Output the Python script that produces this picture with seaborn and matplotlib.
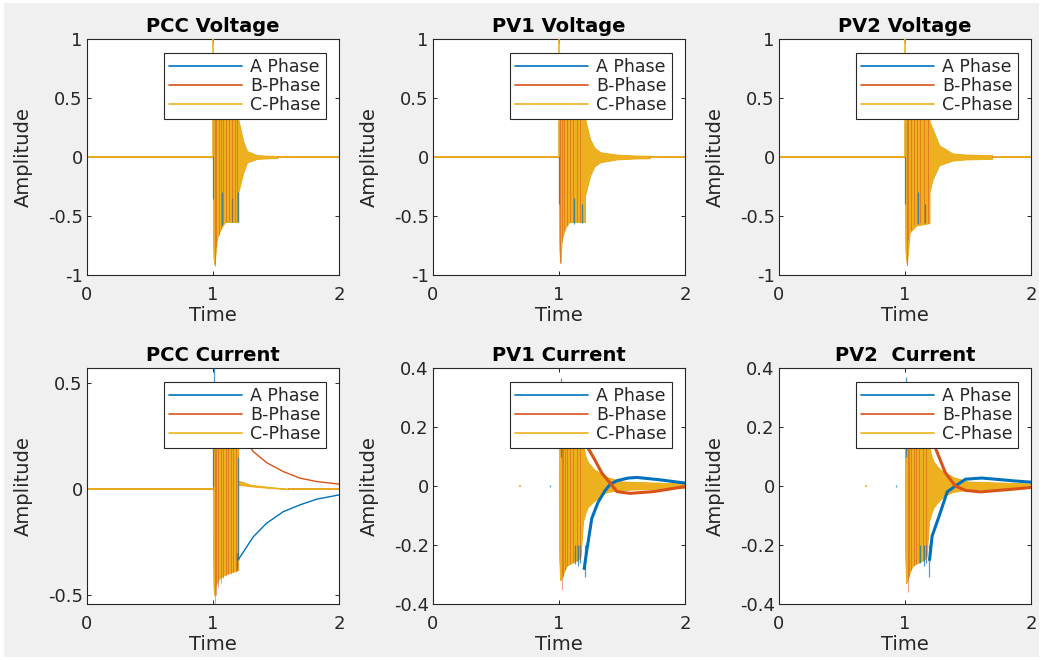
import numpy as np
import pandas as pd
import matplotlib
matplotlib.use("Agg")
import matplotlib.pyplot as plt
from matplotlib.lines import Line2D
from matplotlib.patches import Rectangle
import seaborn as sns

# ---------------- data ----------------
PHASES = ["A Phase", "B-Phase", "C-Phase"]
COLORS = ["#0072BD", "#D95319", "#EDB120"]
TITLES = ["PCC Voltage", "PV1 Voltage", "PV2 Voltage",
          "PCC Current", "PV1 Current", "PV2  Current"]
X_TICKS = [0, 1, 2]
V_TICKS = [-1, -0.5, 0, 0.5, 1]
V_TICKLABELS = ["-1", "-0.5", "0", "0.5", "1"]
PCC_I_TICKS = [-0.5, 0, 0.5]
PCC_I_TICKLABELS = ["-0.5", "0", "0.5"]
PV_I_TICKS = [-0.4, -0.2, 0, 0.2, 0.4]
PV_I_TICKLABELS = ["-0.4", "-0.2", "0", "0.2", "0.4"]
V_LIM = (-1, 1)
PCC_I_LIM = (-0.541, 0.571)
PV_I_LIM = (-0.4, 0.4)

# zero trace before the disturbance (all phases)
ZERO_T = [0.0, 1.0]
ZERO_V = [0.0, 0.0]
END_T = 2.0

# ---- PCC voltage: C-phase envelope (dense band 1.0-1.2 then decay) ----
PCC_V_ENV_T = [1.0, 1.004, 1.012, 1.03, 1.06, 1.095, 1.2, 1.2, 1.24, 1.27, 1.35, 1.45, 1.51, 1.515]
PCC_V_ENV_HI = [0.6, 0.6, 0.6, 0.55, 0.5, 0.45, 0.4, 0.32, 0.13, 0.05, 0.015, 0.01, 0.008, 0.0]
PCC_V_ENV_LO = [-0.6, -0.85, -0.91, -0.69, -0.61, -0.55, -0.55, -0.30, -0.13, -0.045, -0.015, -0.01, -0.008, 0.0]
PCC_V_SPIKE_C = [(1.0, 0.0, 1.0)]
PCC_V_SPIKE_A = [(1.001, -0.36, 0.32), (1.2, -0.55, -0.30), (1.07, -0.58, -0.3), (1.15, -0.55, -0.35)]
PCC_V_SPIKE_B = [(1.012, -0.92, 0.4), (1.025, -0.76, 0.4), (1.045, -0.66, 0.4), (1.06, -0.61, 0.4),
                 (1.08, -0.57, 0.4), (1.1, -0.55, 0.4), (1.125, -0.55, 0.4), (1.15, -0.55, 0.4),
                 (1.175, -0.55, 0.4), (1.19, -0.55, 0.4)]

# ---- PV1 voltage ----
PV1_V_ENV_T = [1.0, 1.004, 1.012, 1.02, 1.05, 1.08, 1.205, 1.205, 1.246, 1.28, 1.325, 1.455, 1.6, 1.72, 1.725]
PV1_V_ENV_HI = [0.6, 0.6, 0.6, 0.55, 0.5, 0.45, 0.4, 0.33, 0.15, 0.08, 0.04, 0.02, 0.012, 0.01, 0.0]
PV1_V_ENV_LO = [-0.5, -0.8, -0.9, -0.7, -0.6, -0.55, -0.55, -0.33, -0.16, -0.08, -0.045, -0.02, -0.012, -0.01, 0.0]
PV1_V_SPIKE_C = [(1.0, 0.0, 1.0)]
PV1_V_SPIKE_A = [(1.003, -0.4, 0.3), (1.12, -0.57, -0.35), (1.18, -0.56, -0.4)]
PV1_V_SPIKE_B = [(1.01, -0.9, 0.4), (1.022, -0.72, 0.4), (1.04, -0.63, 0.4), (1.06, -0.58, 0.4),
                 (1.085, -0.55, 0.4), (1.11, -0.55, 0.4), (1.14, -0.55, 0.4), (1.17, -0.55, 0.4)]

# ---- PV2 voltage ----
PV2_V_ENV_T = [1.0, 1.004, 1.014, 1.036, 1.088, 1.194, 1.194, 1.218, 1.27, 1.376, 1.48, 1.69, 1.695]
PV2_V_ENV_HI = [0.6, 0.6, 0.6, 0.55, 0.5, 0.4, 0.3, 0.24, 0.1, 0.03, 0.02, 0.015, 0.0]
PV2_V_ENV_LO = [-0.5, -0.8, -0.91, -0.64, -0.58, -0.56, -0.3, -0.19, -0.07, -0.03, -0.02, -0.015, 0.0]
PV2_V_SPIKE_C = [(1.0, 0.0, 1.0)]
PV2_V_SPIKE_A = [(1.003, -0.4, 0.3), (1.1, -0.57, -0.3), (1.16, -0.56, -0.4)]
PV2_V_SPIKE_B = [(1.012, -0.92, 0.4), (1.024, -0.7, 0.4), (1.045, -0.62, 0.4), (1.07, -0.58, 0.4),
                 (1.095, -0.56, 0.4), (1.12, -0.56, 0.4), (1.15, -0.56, 0.4), (1.18, -0.56, 0.4)]

# ---- PCC current ----
PCC_I_ENV_T = [1.0, 1.004, 1.01, 1.02, 1.05, 1.1, 1.15, 1.2, 1.2, 1.25, 1.3, 1.45, 1.6]
PCC_I_ENV_HI = [0.3, 0.35, 0.35, 0.35, 0.3, 0.3, 0.3, 0.3, 0.04, 0.03, 0.02, 0.01, 0.002]
PCC_I_ENV_LO = [-0.2, -0.45, -0.5, -0.45, -0.42, -0.40, -0.39, -0.38, 0.02, 0.018, 0.014, 0.006, 0.0]
PCC_I_A_T = [1.2, 1.32, 1.426, 1.558, 1.69, 1.823, 2.0]
PCC_I_A_V = [-0.333, -0.224, -0.16, -0.106, -0.074, -0.047, -0.027]
PCC_I_B_T = [1.2, 1.32, 1.426, 1.558, 1.69, 1.823, 2.0]
PCC_I_B_V = [0.28, 0.177, 0.125, 0.083, 0.052, 0.036, 0.024]
PCC_I_SPIKE_A = [(1.0, 0.01, 0.2), (1.006, 0.2, 0.6), (1.2, -0.333, 0.15), (1.19, -0.38, -0.3)]
PCC_I_SPIKE_B = [(1.012, -0.545, 0.3), (1.022, -0.5, 0.3), (1.04, -0.46, 0.3), (1.06, -0.44, 0.3),
                 (1.08, -0.42, 0.3), (1.1, -0.41, 0.3), (1.12, -0.40, 0.3), (1.14, -0.40, 0.3),
                 (1.16, -0.39, 0.3), (1.18, -0.39, 0.3)]
PCC_I_SPIKE_C = []

# ---- PV1 current ----
PV1_I_ENV_T = [1.0, 1.003, 1.01, 1.03, 1.06, 1.1, 1.15, 1.17, 1.19, 1.21, 1.23, 1.28, 1.325, 1.38, 1.5, 2.0]
PV1_I_ENV_HI = [0.05, 0.2, 0.25, 0.25, 0.25, 0.25, 0.25, 0.2, 0.14, 0.1, 0.08, 0.055, 0.045, 0.03, 0.015, 0.008]
PV1_I_ENV_LO = [-0.05, -0.25, -0.32, -0.3, -0.27, -0.26, -0.25, -0.24, -0.12, -0.09, -0.07, -0.05, -0.035, -0.02, -0.013, -0.006]
PV1_I_A_T = [1.2, 1.22, 1.246, 1.26, 1.31, 1.365, 1.405, 1.46, 1.55, 1.62, 1.80, 2.0]
PV1_I_A_V = [-0.28, -0.22, -0.149, -0.11, -0.055, -0.016, 0.005, 0.018, 0.027, 0.029, 0.021, 0.01]
PV1_I_B_T = [1.2, 1.23, 1.285, 1.34, 1.405, 1.46, 1.563, 1.75, 2.0]
PV1_I_B_V = [0.2, 0.129, 0.088, 0.044, 0.01, -0.019, -0.025, -0.019, -0.002]
PV1_I_SPIKE_A = [(1.018, 0.1, 0.366), (1.13, -0.265, -0.2), (1.15, -0.27, -0.2), (1.17, -0.26, -0.2),
                 (1.208, -0.31, -0.2), (0.93, -0.003, 0.003)]
PV1_I_SPIKE_B = [(1.02, -0.353, 0.2), (1.035, -0.31, 0.2), (1.048, -0.285, 0.2), (1.065, -0.27, 0.2),
                 (1.087, -0.265, 0.2), (1.11, -0.26, 0.2), (1.14, -0.255, 0.2), (1.165, -0.25, 0.2)]
PV1_I_SPIKE_C = [(0.69, -0.003, 0.003)]

# ---- PV2 current ----
PV2_I_ENV_T = [1.0, 1.003, 1.01, 1.03, 1.06, 1.1, 1.15, 1.17, 1.19, 1.21, 1.23, 1.28, 1.325, 1.38, 1.5, 2.0]
PV2_I_ENV_HI = [0.05, 0.2, 0.25, 0.25, 0.25, 0.25, 0.25, 0.2, 0.14, 0.1, 0.08, 0.055, 0.045, 0.03, 0.015, 0.008]
PV2_I_ENV_LO = [-0.05, -0.25, -0.33, -0.3, -0.27, -0.26, -0.25, -0.24, -0.12, -0.09, -0.07, -0.045, -0.03, -0.02, -0.012, -0.006]
PV2_I_A_T = [1.195, 1.215, 1.27, 1.335, 1.40, 1.48, 1.61, 1.875, 2.0]
PV2_I_A_V = [-0.25, -0.17, -0.103, -0.02, 0.0, 0.023, 0.027, 0.017, 0.013]
PV2_I_B_T = [1.2, 1.245, 1.32, 1.40, 1.48, 1.6, 1.875, 2.0]
PV2_I_B_V = [0.2, 0.125, 0.045, 0.0, -0.015, -0.02, -0.01, -0.005]
PV2_I_SPIKE_A = [(1.01, 0.1, 0.37), (1.12, -0.26, -0.2), (1.15, -0.27, -0.2), (1.17, -0.26, -0.2),
                 (1.193, -0.31, -0.2), (0.93, -0.003, 0.003)]
PV2_I_SPIKE_B = [(1.02, -0.36, 0.2), (1.035, -0.31, 0.2), (1.05, -0.285, 0.2), (1.07, -0.27, 0.2),
                 (1.09, -0.265, 0.2), (1.115, -0.26, 0.2), (1.14, -0.255, 0.2), (1.165, -0.25, 0.2)]
PV2_I_SPIKE_C = [(0.69, -0.003, 0.003)]

# ---------------- style ----------------
sns.set_theme(style="white")
plt.rcParams["font.family"] = ["DejaVu Sans"]
plt.rcParams["axes.unicode_minus"] = False
INK = "#262626"

fig = plt.figure(figsize=(10.43, 6.6), dpi=100)
fig.patch.set_facecolor("white")
fig.add_artist(Rectangle((4 / 1043, 3 / 660), 1035 / 1043, 654 / 660,
                         transform=fig.transFigure, facecolor="#f0f0f0",
                         edgecolor="none", zorder=-10))

W, H = 1043.0, 660.0
COL_LEFT = [87, 433, 779]
ROW_TOP = [39, 368]
AX_W, AX_H = 252, 236


def make_ax(row, col):
    l = COL_LEFT[col] / W
    b = 1 - (ROW_TOP[row] + AX_H) / H
    return fig.add_axes([l, b, AX_W / W, AX_H / H])


def draw_panel(ax, title, env, lines_a, lines_b, spikes, ylim, yticks, yticklabels,
               zero_line=True, thick=False):
    env_t, env_hi, env_lo = env
    # pre/post-disturbance flat traces
    if zero_line:
        for c in COLORS:
            sns.lineplot(x=ZERO_T, y=ZERO_V, ax=ax, color=c, lw=1.3,
                         sort=False, estimator=None, legend=False)
            sns.lineplot(x=[env_t[-1], END_T], y=[0.0, 0.0], ax=ax, color=c, lw=1.3,
                         sort=False, estimator=None, legend=False)
    lw_tr = 2.2 if thick else 1.0
    # A phase
    ax.fill_between(env_t, env_hi, env_lo, color=COLORS[0], lw=0)
    if lines_a is not None:
        sns.lineplot(x=lines_a[0], y=lines_a[1], ax=ax, color=COLORS[0],
                     lw=lw_tr, sort=False, estimator=None, legend=False)
    # B phase
    ax.fill_between(env_t, env_hi, env_lo, color=COLORS[1], lw=0)
    if lines_b is not None:
        sns.lineplot(x=lines_b[0], y=lines_b[1], ax=ax, color=COLORS[1],
                     lw=lw_tr, sort=False, estimator=None, legend=False)
    # C phase on top
    ax.fill_between(env_t, env_hi, env_lo, color=COLORS[2], lw=0.8, edgecolor=COLORS[2])
    sp_a, sp_b, sp_c = spikes
    for (t, lo, hi) in sp_a:
        ax.vlines(t, lo, hi, color=COLORS[0], lw=0.9, alpha=0.7, zorder=3)
    for (t, lo, hi) in sp_b:
        ax.vlines(t, lo, hi, color=COLORS[1], lw=0.7, alpha=0.55, zorder=3)
    for (t, lo, hi) in sp_c:
        ax.vlines(t, lo, hi, color=COLORS[2], lw=1.2, zorder=3)

    ax.set_xlim(0, 2)
    ax.set_ylim(*ylim)
    ax.set_xticks(X_TICKS)
    ax.set_xticklabels([str(v) for v in X_TICKS])
    ax.set_yticks(yticks)
    ax.set_yticklabels(yticklabels)
    ax.set_facecolor("white")
    for s in ax.spines.values():
        s.set_visible(True)
        s.set_color(INK)
        s.set_linewidth(0.8)
    ax.tick_params(direction="in", length=3, width=0.7, color=INK, labelcolor=INK,
                   labelsize=13, top=True, right=True, bottom=True, left=True)
    ax.tick_params(axis="x", pad=8)
    ax.tick_params(axis="y", pad=3)
    ax.set_title(title, fontsize=14, fontweight="bold", color="black", pad=5)
    ax.set_xlabel("Time", fontsize=14, color=INK, labelpad=1)
    ax.set_ylabel("Amplitude", fontsize=14, color=INK, labelpad=11)
    handles = [Line2D([0], [0], color=c, lw=1.2) for c in COLORS]
    leg = ax.legend(handles, PHASES, loc="upper right", bbox_to_anchor=(0.948, 0.942),
                    fontsize=12.5, frameon=True, fancybox=False, framealpha=1,
                    edgecolor=INK, borderpad=0.3, labelspacing=0.05,
                    handlelength=4.2, handletextpad=0.45, borderaxespad=0)
    leg.get_frame().set_linewidth(0.8)
    leg.set_zorder(10)
    for txt in leg.get_texts():
        txt.set_color(INK)


panels = [
    (0, 0, TITLES[0], (PCC_V_ENV_T, PCC_V_ENV_HI, PCC_V_ENV_LO), None, None,
     (PCC_V_SPIKE_A, PCC_V_SPIKE_B, PCC_V_SPIKE_C), V_LIM, V_TICKS, V_TICKLABELS, True, False),
    (0, 1, TITLES[1], (PV1_V_ENV_T, PV1_V_ENV_HI, PV1_V_ENV_LO), None, None,
     (PV1_V_SPIKE_A, PV1_V_SPIKE_B, PV1_V_SPIKE_C), V_LIM, V_TICKS, V_TICKLABELS, True, False),
    (0, 2, TITLES[2], (PV2_V_ENV_T, PV2_V_ENV_HI, PV2_V_ENV_LO), None, None,
     (PV2_V_SPIKE_A, PV2_V_SPIKE_B, PV2_V_SPIKE_C), V_LIM, V_TICKS, V_TICKLABELS, True, False),
    (1, 0, TITLES[3], (PCC_I_ENV_T, PCC_I_ENV_HI, PCC_I_ENV_LO), (PCC_I_A_T, PCC_I_A_V),
     (PCC_I_B_T, PCC_I_B_V), (PCC_I_SPIKE_A, PCC_I_SPIKE_B, PCC_I_SPIKE_C),
     PCC_I_LIM, PCC_I_TICKS, PCC_I_TICKLABELS, True, False),
    (1, 1, TITLES[4], (PV1_I_ENV_T, PV1_I_ENV_HI, PV1_I_ENV_LO), (PV1_I_A_T, PV1_I_A_V),
     (PV1_I_B_T, PV1_I_B_V), (PV1_I_SPIKE_A, PV1_I_SPIKE_B, PV1_I_SPIKE_C),
     PV_I_LIM, PV_I_TICKS, PV_I_TICKLABELS, False, True),
    (1, 2, TITLES[5], (PV2_I_ENV_T, PV2_I_ENV_HI, PV2_I_ENV_LO), (PV2_I_A_T, PV2_I_A_V),
     (PV2_I_B_T, PV2_I_B_V), (PV2_I_SPIKE_A, PV2_I_SPIKE_B, PV2_I_SPIKE_C),
     PV_I_LIM, PV_I_TICKS, PV_I_TICKLABELS, False, True),
]

for (r, c, title, env, la, lb, sp, ylim, yt, ytl, zl, thick) in panels:
    ax = make_ax(r, c)
    draw_panel(ax, title, env, la, lb, sp, ylim, yt, ytl, zero_line=zl, thick=thick)

fig.savefig("out.png", dpi=100, facecolor=fig.get_facecolor())
